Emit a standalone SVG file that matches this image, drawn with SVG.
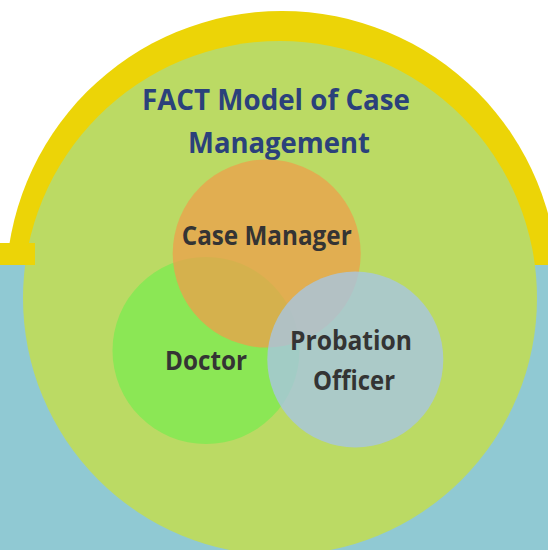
<svg xmlns="http://www.w3.org/2000/svg" width="548" height="550" viewBox="0 0 548 550">
<style>
.title{font-family:"Open Sans","Noto Sans",sans-serif;font-weight:700;font-size:29px;fill:#2B417B;text-anchor:middle}
.lbl{font-family:"Open Sans","Noto Sans",sans-serif;font-weight:700;font-size:26px;fill:#343434;text-anchor:middle}
</style>
<defs>
<clipPath id="top"><rect x="0" y="0" width="548" height="265"/></clipPath>
</defs>
<rect x="0" y="0" width="548" height="550" fill="#FFFFFF"/>
<g id="background">
<circle cx="282" cy="287" r="276" fill="#ECD407" clip-path="url(#top)"/>
<rect x="0" y="265" width="548" height="285" fill="#90C9D3"/>
<circle cx="280" cy="298" r="257" fill="#BBDA64"/>
<rect x="0" y="243" width="35" height="22" fill="#ECD407"/>
</g>
<g id="title">
<text class="title" x="276" y="110" textLength="268" lengthAdjust="spacingAndGlyphs">FACT Model of Case</text>
<text class="title" x="279" y="153" textLength="182" lengthAdjust="spacingAndGlyphs">Management</text>
</g>
<g id="doctor">
<circle cx="206" cy="350.5" r="93.5" fill="#8BE755"/>
</g>
<g id="case-manager">
<circle cx="266.7" cy="253.5" r="94" fill="#EE9F4B" fill-opacity="0.75"/>
</g>
<g id="probation-officer">
<circle cx="355.3" cy="359.5" r="88" fill="#A7C5E1" fill-opacity="0.8"/>
</g>
<g id="labels">
<text class="lbl" x="266.7" y="245" textLength="170" lengthAdjust="spacingAndGlyphs">Case Manager</text>
<text class="lbl" x="206" y="370" textLength="82" lengthAdjust="spacingAndGlyphs">Doctor</text>
<text class="lbl" x="351" y="350" textLength="122" lengthAdjust="spacingAndGlyphs">Probation</text>
<text class="lbl" x="354" y="390" textLength="82" lengthAdjust="spacingAndGlyphs">Officer</text>
</g>
<g id="connectors"/>
</svg>
